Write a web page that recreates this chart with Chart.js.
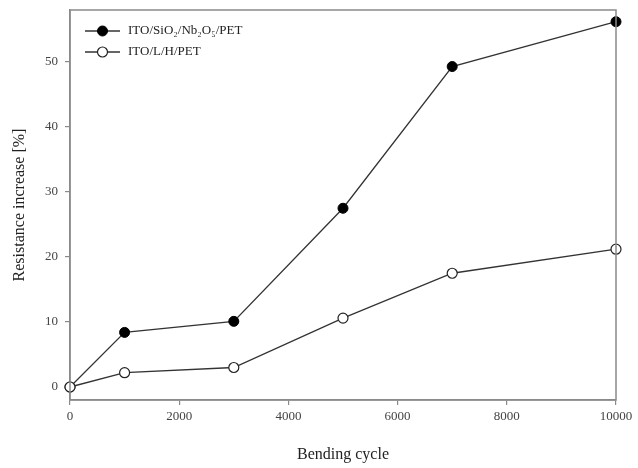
<!DOCTYPE html>
<html>
<head>
<meta charset="utf-8">
<script src="https://cdn.jsdelivr.net/npm/chart.js@4.4.1/dist/chart.umd.min.js"></script>
<style>
  html, body { margin: 0; padding: 0; background: #fff; }
  #wrap { width: 638px; height: 468px; }
</style>
</head>
<body>
<div id="wrap"><canvas id="chart" width="638" height="468"></canvas></div>
<script>
// bending cycles and resistance increase (%)
const cycles = [0, 1000, 3000, 5000, 7000, 10000];
const sioNbValues = [0, 8.4, 10.1, 27.5, 49.3, 56.2];
const lhValues = [0, 2.2, 3.0, 10.6, 17.5, 21.2];
const seriesNames = ['ITO/SiO\u2082/Nb\u2082O\u2085/PET', 'ITO/L/H/PET'];
const xTicks = [0, 2000, 4000, 6000, 8000, 10000];
const yTicks = [0, 10, 20, 30, 40, 50];

const axisColor = '#8a8a8a';
const serif = "'Liberation Serif', 'Times New Roman', serif";

// frame round the plot area
const frame = {
  id: 'frame',
  afterDraw(chart) {
    const a = chart.chartArea, ctx = chart.ctx;
    ctx.save();
    ctx.strokeStyle = axisColor;
    ctx.lineWidth = 1.5;
    ctx.strokeRect(a.left, a.top, a.right - a.left, a.bottom - a.top);
    ctx.restore();
  }
};

// legend inside top-left corner, line + marker like the original
const innerLegend = {
  id: 'innerLegend',
  afterDraw(chart) {
    const a = chart.chartArea, ctx = chart.ctx;
    ctx.save();
    chart.data.datasets.forEach((ds, i) => {
      const y = a.top + 21 + i * 21;
      const x0 = a.left + 15, x1 = a.left + 50;
      ctx.strokeStyle = ds.borderColor;
      ctx.lineWidth = ds.borderWidth;
      ctx.beginPath();
      ctx.moveTo(x0, y);
      ctx.lineTo(x1, y);
      ctx.stroke();
      ctx.beginPath();
      ctx.arc((x0 + x1) / 2, y, ds.pointRadius, 0, Math.PI * 2);
      ctx.fillStyle = ds.pointBackgroundColor;
      ctx.fill();
      ctx.lineWidth = ds.pointBorderWidth;
      ctx.strokeStyle = ds.pointBorderColor;
      ctx.stroke();
      ctx.fillStyle = '#222';
      ctx.font = '13px ' + serif;
      ctx.textBaseline = 'middle';
      ctx.fillText(ds.label, x1 + 8, y);
    });
    ctx.restore();
  }
};

const toPoints = (vals) => cycles.map((c, i) => ({ x: c, y: vals[i] }));

new Chart(document.getElementById('chart'), {
  type: 'line',
  data: {
    datasets: [
      {
        label: seriesNames[0],
        data: toPoints(sioNbValues),
        borderColor: '#333',
        borderWidth: 1.3,
        pointRadius: 5,
        pointBackgroundColor: '#000',
        pointBorderColor: '#000',
        pointBorderWidth: 1,
        tension: 0
      },
      {
        label: seriesNames[1],
        data: toPoints(lhValues),
        order: -1,
        borderColor: '#333',
        borderWidth: 1.3,
        pointRadius: 5,
        pointBackgroundColor: '#fff',
        pointBorderColor: '#222',
        pointBorderWidth: 1.2,
        tension: 0
      }
    ]
  },
  options: {
    responsive: false,
    animation: false,
    clip: false,
    layout: { padding: { top: 10, right: 22, left: 6, bottom: 0 } },
    plugins: {
      legend: { display: false },
      tooltip: { enabled: false }
    },
    scales: {
      x: {
        type: 'linear',
        min: 0,
        max: 10000,
        afterBuildTicks: (s) => { s.ticks = xTicks.map(v => ({ value: v })); },
        afterFit: (s) => { s.height = 68; },
        grid: { drawOnChartArea: false, drawTicks: true, tickLength: 5, color: axisColor, lineWidth: 1.2 },
        border: { color: axisColor, width: 1.5 },
        ticks: { color: '#444', font: { family: serif, size: 13 }, padding: 4, maxRotation: 0, callback: (v) => String(v) },
        title: { display: true, text: 'Bending cycle', color: '#222', font: { family: serif, size: 16 }, padding: { top: 14 } }
      },
      y: {
        type: 'linear',
        min: -2,
        max: 58,
        afterBuildTicks: (s) => { s.ticks = yTicks.map(v => ({ value: v })); },
        afterFit: (s) => { s.width = 64; s.paddingTop = 0; s.paddingBottom = 0; },
        grid: { drawOnChartArea: false, drawTicks: true, tickLength: 5, color: axisColor, lineWidth: 1.2 },
        border: { color: axisColor, width: 1.5 },
        ticks: { color: '#444', font: { family: serif, size: 13 }, padding: 7, callback: (v) => String(v) },
        title: { display: true, text: 'Resistance increase [%]', color: '#222', font: { family: serif, size: 16 }, padding: { bottom: 10 } }
      }
    }
  },
  plugins: [frame, innerLegend]
});
</script>
</body>
</html>
